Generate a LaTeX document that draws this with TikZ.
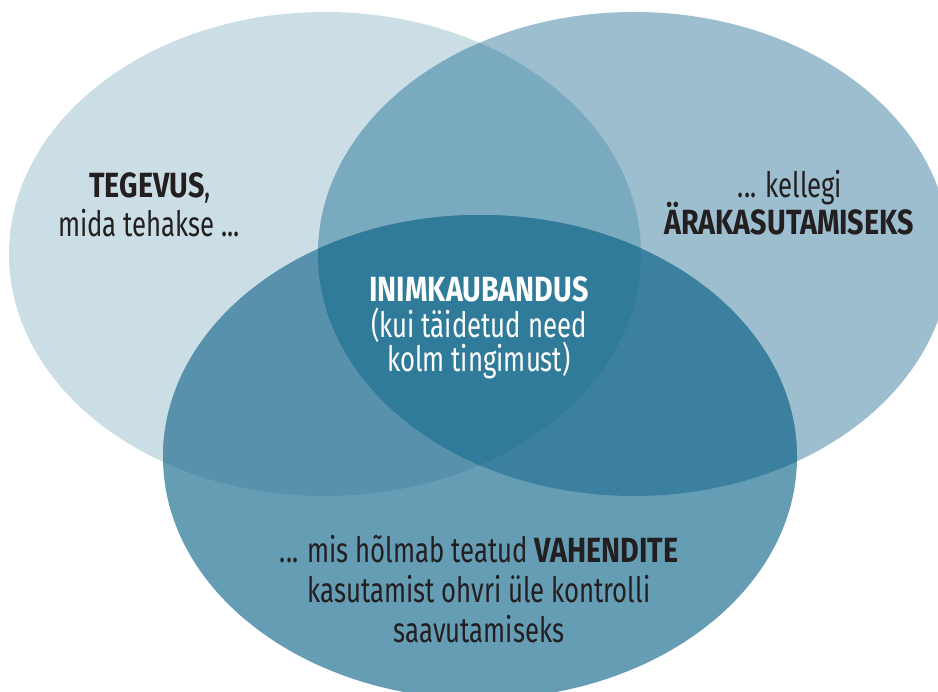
\documentclass[tikz,border=0pt]{standalone}
\usepackage{fontspec}
\setmainfont{Fira Sans}[FakeStretch=0.735, BoldFeatures={FakeStretch=0.82}]
\definecolor{cL}{HTML}{CBDEE6}
\definecolor{cR}{HTML}{9CBECF}
\definecolor{cB}{HTML}{659DB5}
\definecolor{cLR}{HTML}{7AAABF}
\definecolor{cLB}{HTML}{5891AB}
\definecolor{cRB}{HTML}{3B809E}
\definecolor{cC}{HTML}{2F7B99}
\definecolor{ink}{HTML}{231F20}
\tikzset{
  txt/.style={anchor=base, inner sep=0pt, text=ink, font=\fontsize{35}{39}\selectfont},
  wtxt/.style={txt, text=white},
}
\newcommand{\ellL}{(325,254) ellipse [x radius=316, y radius=242]}
\newcommand{\ellR}{(634,254) ellipse [x radius=316, y radius=242]}
\newcommand{\ellB}{(480,457) ellipse [x radius=317, y radius=242]}
\begin{document}
\begin{tikzpicture}[x=1pt,y=-1pt]
\useasboundingbox (0,0) rectangle (938,692);
\begin{scope}
\clip (0,0) rectangle (938,692);
\fill[cL] \ellL;
\fill[cR] \ellR;
\fill[cB] \ellB;
\begin{scope}\clip \ellL; \fill[cLR] \ellR; \end{scope}
\begin{scope}\clip \ellL; \fill[cLB] \ellB; \end{scope}
\begin{scope}\clip \ellR; \fill[cRB] \ellB; \end{scope}
\begin{scope}\clip \ellL; \clip \ellR; \fill[cC] \ellB; \end{scope}
\end{scope}
\node[txt] (l1) at (150,198) {\textbf{TEGEVUS},};
\node[txt] (l2) at (149,237) {mida tehakse ...};
\node[txt] (r1) at (790,198) {... kellegi};
\node[txt] (r2) at (789,235) {\textbf{ÄRAKASUTAMISEKS}};
\node[wtxt] (c1) at (479,302) {\textbf{INIMKAUBANDUS}};
\node[wtxt] (c2) at (479,338) {(kui täidetud need};
\node[wtxt] (c3) at (479,372) {kolm tingimust)};
\node[txt] (b1) at (479,563) {... mis hõlmab teatud \textbf{VAHENDITE}};
\node[txt] (b2) at (479,602) {kasutamist ohvri üle kontrolli};
\node[txt] (b3) at (479,642) {saavutamiseks};
\end{tikzpicture}
\end{document}
